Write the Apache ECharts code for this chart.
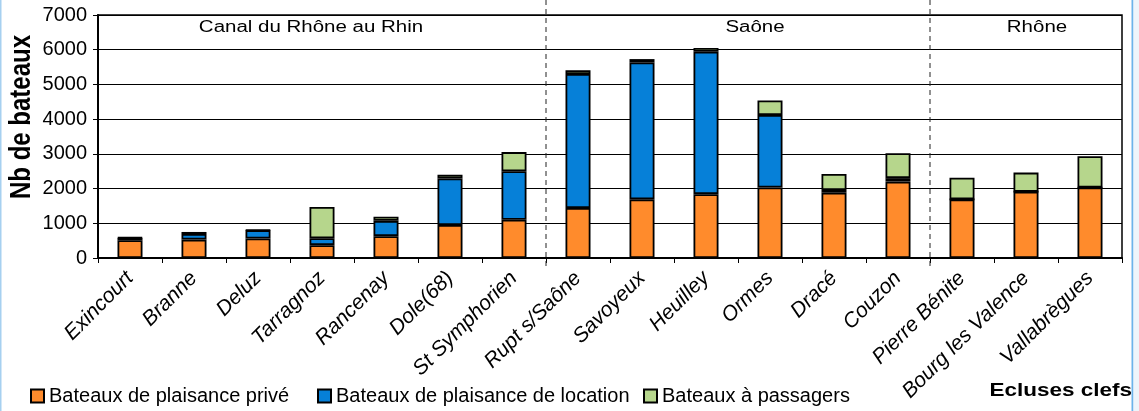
<!DOCTYPE html>
<html>
<head>
<meta charset="utf-8">
<script src="https://cdn.jsdelivr.net/npm/echarts@6/dist/echarts.min.js"></script>
<style>
html,body{margin:0;padding:0;background:#fff;}
#c{width:1139px;height:411px;}
</style>
</head>
<body>
<div id="c"></div>
<script>
const categories = ['Exincourt','Branne','Deluz','Tarragnoz','Rancenay','Dole(68)','St Symphorien','Rupt s/Saône','Savoyeux','Heuilley','Ormes','Dracé','Couzon','Pierre Bénite','Bourg les Valence','Vallabrègues'];
const prive     = [510, 530, 560, 370, 630, 950, 1100, 1440, 1690, 1840, 2030, 1880, 2200, 1690, 1910, 2030];
const location_ = [70, 160, 240, 200, 440, 1340, 1400, 3860, 3940, 4100, 2090, 80, 100, 0, 0, 0];
const passagers = [15, 60, 10, 900, 120, 110, 550, 110, 100, 110, 420, 460, 720, 620, 550, 900];
const seriesNames = ['Bateaux de plaisance privé', 'Bateaux de plaisance de location', 'Bateaux à passagers'];
const groups = ['Canal du Rhône au Rhin', 'Saône', 'Rhône'];
const yTicks = [0, 7000, 1000];

const FONT = "'Liberation Sans', Arial, sans-serif";
const chart = echarts.init(document.getElementById('c'), null, {renderer: 'canvas'});

const barStyle = (color) => ({color: color, borderColor: '#000', borderWidth: 1.8});
const legendCommon = {
  top: 386, padding: 0, itemWidth: 13, itemHeight: 13, itemGap: 5, icon: 'rect',
  selectedMode: false,
  textStyle: {fontFamily: FONT, fontSize: 20, color: '#000'}
};

const option = {
  animation: false,
  backgroundColor: '#fff',
  grid: {left: 98, right: 17, top: 15, bottom: 153, show: true, borderColor: '#000', borderWidth: 1.5, backgroundColor: 'transparent'},
  legend: [
    Object.assign({}, legendCommon, {left: 30, data: [seriesNames[0]]}),
    Object.assign({}, legendCommon, {left: 317, data: [seriesNames[1]]}),
    Object.assign({}, legendCommon, {left: 643, data: [seriesNames[2]]})
  ],
  xAxis: {
    type: 'category', data: categories,
    axisLine: {lineStyle: {color: '#000', width: 2}},
    axisTick: {show: true, alignWithLabel: false, length: 5, lineStyle: {color: '#000', width: 1}},
    axisLabel: {rotate: 45, margin: 17, fontFamily: FONT, fontSize: 21, fontStyle: 'italic', color: '#000', interval: 0}
  },
  yAxis: {
    type: 'value', min: yTicks[0], max: yTicks[1], interval: yTicks[2],
    axisLine: {show: true, lineStyle: {color: '#000', width: 2}},
    axisTick: {show: true, length: 5, lineStyle: {color: '#000', width: 1}},
    axisLabel: {margin: 11, fontFamily: FONT, fontSize: 20, color: '#000', formatter: (v) => String(v)},
    splitLine: {lineStyle: {color: '#000', width: 1}}
  },
  series: [
    {name: seriesNames[0], type: 'bar', stack: 'tot', data: prive, barWidth: 25, itemStyle: barStyle('#FF8B2C')},
    {name: seriesNames[1], type: 'bar', stack: 'tot', data: location_, barWidth: 25, itemStyle: barStyle('#0680D8')},
    {name: seriesNames[2], type: 'bar', stack: 'tot', data: passagers, barWidth: 25, itemStyle: barStyle('#B6D68C')}
  ]
};
chart.setOption(option);

// separators between river groups, computed from the category axis
const px = (i) => chart.convertToPixel({xAxisIndex: 0}, i);
const sep1 = (px(6) + px(7)) / 2;
const sep2 = (px(12) + px(13)) / 2;
const dashed = (x) => ({
  type: 'line', z: 50, silent: true,
  shape: {x1: x, y1: 0, x2: x, y2: 268},
  style: {stroke: '#222', lineWidth: 1, lineDash: [5, 4]}
});
const groupText = (t, x) => ({
  type: 'text', z: 50, x: x, y: 28, scaleX: 1.28, scaleY: 1,
  style: {text: t, x: 0, y: 0, fontFamily: FONT, fontSize: 16, fill: '#000', textAlign: 'center', textVerticalAlign: 'middle', verticalAlign: 'middle'}
});

chart.setOption({
  graphic: [
    {type: 'rect', z: 0, shape: {x: 0, y: 0, width: 1.5, height: 411}, style: {fill: '#a6d0f0'}},
    {type: 'rect', z: 0, shape: {x: 1131.5, y: 0, width: 2, height: 411}, style: {fill: '#6cb3ea'}},
    {type: 'rect', z: 0, shape: {x: 1133.5, y: 0, width: 6, height: 411}, style: {fill: '#eef5fb'}},
    dashed(sep1), dashed(sep2),
    groupText(groups[0], 311), groupText(groups[1], 755), groupText(groups[2], 1037),
    {type: 'text', z: 50, x: 22, y: 117, rotation: Math.PI / 2, scaleX: 1, scaleY: 1.25,
     style: {text: 'Nb de bateaux', x: 0, y: 0, fontFamily: FONT, fontSize: 24, fontWeight: 'bold', fill: '#000', textAlign: 'center', textVerticalAlign: 'middle', verticalAlign: 'middle'}},
    {type: 'text', z: 50, x: 1132, y: 391.5, scaleX: 1.25, scaleY: 1,
     style: {text: 'Ecluses clefs', x: 0, y: 0, fontFamily: FONT, fontSize: 18, fontWeight: 'bold', fill: '#000', textAlign: 'right', textVerticalAlign: 'middle', verticalAlign: 'middle'}}
  ]
});
</script>
</body>
</html>
